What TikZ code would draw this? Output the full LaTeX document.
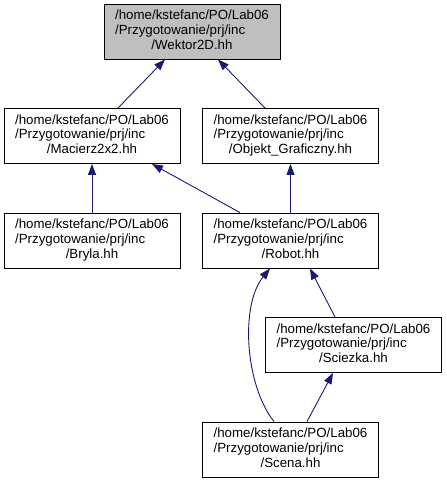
\documentclass[tikz,border=0pt]{standalone}
\usepackage{fontspec}
\setmainfont{Liberation Sans}
\usetikzlibrary{arrows.meta}
\definecolor{edgeblue}{RGB}{25,25,112}
\definecolor{hlgray}{RGB}{191,191,191}
\newcommand{\filelabel}[1]{\begin{tabular}{@{}l@{}}/home/kstefanc/PO/Lab06\\/Przygotowanie/prj/inc\\\multicolumn{1}{@{}c@{}}{/#1}\end{tabular}}
\begin{document}
\begin{tikzpicture}[x=1pt,y=-1pt,
  filebox/.style={draw=black,line width=0.9pt,fill=white,minimum width=176pt,minimum height=55pt,inner sep=0pt,
    font=\fontsize{13.3}{14.6}\selectfont},
  curbox/.style={filebox,fill=hlgray},
  dep/.style={draw=edgeblue,line width=0.9pt,-{Triangle[length=11pt,width=8pt]}}]
\useasboundingbox (0,0) rectangle (447,483);
\node[curbox] (W) at (192,31.5) {\filelabel{Wektor2D.hh}};
\node[filebox] (M) at (92,136) {\filelabel{Macierz2x2.hh}};
\node[filebox] (O) at (290.5,136) {\filelabel{Objekt\_Graficzny.hh}};
\node[filebox] (B) at (92,240.5) {\filelabel{Bryla.hh}};
\node[filebox] (R) at (290.5,240.5) {\filelabel{Robot.hh}};
\node[filebox] (Si) at (353.5,345) {\filelabel{Sciezka.hh}};
\node[filebox] (Sc) at (290.5,449.5) {\filelabel{Scena.hh}};
\draw[dep] ([xshift=26pt]M.north) -- ([xshift=-27pt]W.south);
\draw[dep] ([xshift=-25.5pt]O.north) -- ([xshift=26pt]W.south);
\draw[dep] (B.north) -- (M.south);
\draw[dep] ([xshift=-50.5pt]R.north) -- ([xshift=60pt]M.south);
\draw[dep] (R.north) -- (O.south);
\draw[dep] ([xshift=-18.5pt]Si.north) -- ([xshift=19.5pt]R.south);
\draw[dep] ([xshift=-16.5pt]Sc.north) .. controls (245,385) and (240,305) .. ([xshift=-20.5pt]R.south);
\draw[dep] ([xshift=16.5pt]Sc.north) -- ([xshift=-20.5pt]Si.south);
\end{tikzpicture}
\end{document}
